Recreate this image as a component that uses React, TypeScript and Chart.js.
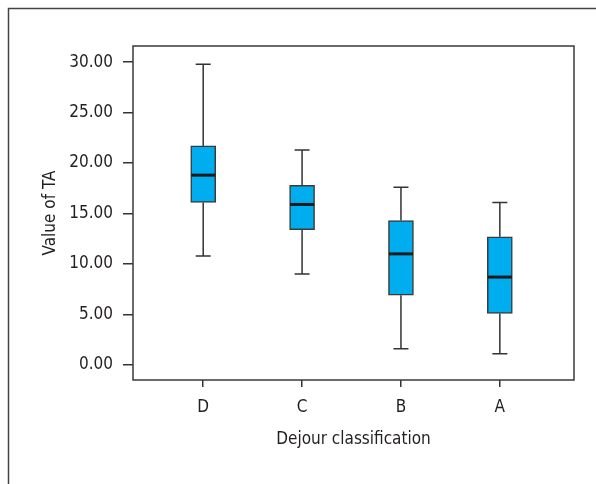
import React, { useEffect, useRef } from "react";
import { Chart, registerables } from "chart.js";

Chart.register(...registerables);

const categories = ["D", "C", "B", "A"];
const whiskerLow = [10.8, 9.0, 1.6, 1.1];
const q1 = [16.1, 13.4, 6.9, 5.1];
const median = [18.8, 15.9, 11.0, 8.7];
const q3 = [21.7, 17.8, 14.3, 12.7];
const whiskerHigh = [29.8, 21.3, 17.6, 16.1];
const yTicks = [0, 5, 10, 15, 20, 25, 30];

const FONT = "'Liberation Sans Narrow', 'DejaVu Sans Condensed', sans-serif";
const TEXT = "#231f20";
const LINE = "#333333";

const boxPlugin = {
  id: "boxExtras",
  beforeDraw(chart: any) {
    const ctx = chart.ctx;
    ctx.save();
    ctx.strokeStyle = "#444";
    ctx.lineWidth = 1.5;
    ctx.beginPath();
    ctx.moveTo(8.5, 484);
    ctx.lineTo(8.5, 8.5);
    ctx.lineTo(596, 8.5);
    ctx.stroke();
    ctx.restore();
  },
  beforeDatasetsDraw(chart: any) {
    const ctx = chart.ctx;
    const xs = chart.scales.x;
    const ys = chart.scales.y;
    ctx.save();
    ctx.strokeStyle = LINE;
    ctx.lineWidth = 1.5;
    categories.forEach((_, i) => {
      const x = xs.getPixelForValue(i);
      const lo = ys.getPixelForValue(whiskerLow[i]);
      const hi = ys.getPixelForValue(whiskerHigh[i]);
      const b1 = ys.getPixelForValue(q1[i]);
      const b3 = ys.getPixelForValue(q3[i]);
      ctx.beginPath();
      ctx.moveTo(x, hi);
      ctx.lineTo(x, b3);
      ctx.moveTo(x, b1);
      ctx.lineTo(x, lo);
      ctx.moveTo(x - 7.5, hi);
      ctx.lineTo(x + 7.5, hi);
      ctx.moveTo(x - 7.5, lo);
      ctx.lineTo(x + 7.5, lo);
      ctx.stroke();
    });
    ctx.restore();
  },
  afterDatasetsDraw(chart: any) {
    const ctx = chart.ctx;
    const xs = chart.scales.x;
    const ys = chart.scales.y;
    const a = chart.chartArea;
    ctx.save();
    ctx.strokeStyle = "#1a1a1a";
    ctx.lineWidth = 3;
    categories.forEach((_, i) => {
      const x = xs.getPixelForValue(i);
      const m = ys.getPixelForValue(median[i]);
      ctx.beginPath();
      ctx.moveTo(x - 12, m);
      ctx.lineTo(x + 12, m);
      ctx.stroke();
    });
    ctx.strokeStyle = "#3a3a3a";
    ctx.lineWidth = 1.5;
    ctx.strokeRect(a.left, a.top, a.right - a.left, a.bottom - a.top);
    ctx.restore();
  },
};

export default function App() {
  const ref = useRef<HTMLCanvasElement | null>(null);
  useEffect(() => {
    if (!ref.current) return;
    const chart = new Chart(ref.current, {
      type: "bar",
      data: {
        datasets: [
          {
            data: categories.map((_, i) => ({ x: i, y: [q1[i], q3[i]] })) as any,
            backgroundColor: "#00aeef",
            borderColor: "#3a3a3a",
            borderWidth: 1.5,
            borderSkipped: false,
            barThickness: 25,
          },
        ],
      },
      options: {
        responsive: false,
        animation: false,
        layout: { padding: { left: 0, top: 46, right: 22, bottom: 0 } },
        plugins: { legend: { display: false }, tooltip: { enabled: false } },
        scales: {
          x: {
            type: "linear",
            offset: false,
            min: -0.71,
            max: 3.75,
            afterBuildTicks: (s: any) => {
              s.ticks = categories.map((_, i) => ({ value: i }));
            },
            afterFit: (s: any) => {
              s.height = 104;
            },
            ticks: {
              callback: (v: any) => categories[v as number] ?? "",
              color: TEXT,
              font: { family: FONT, size: 17 },
              padding: 10,
              maxRotation: 0,
            },
            grid: { display: true, offset: false, drawOnChartArea: false, drawTicks: true, tickLength: 7, color: LINE, lineWidth: 1.5 },
            border: { display: false },
            title: {
              display: true,
              text: "Dejour classification",
              color: TEXT,
              font: { family: FONT, size: 17 },
              padding: { top: 0, bottom: 34 },
            },
          },
          y: {
            min: -1.5,
            max: 31.6,
            afterBuildTicks: (s: any) => {
              s.ticks = yTicks.map((v) => ({ value: v }));
            },
            afterFit: (s: any) => {
              s.width = 133;
            },
            ticks: {
              callback: (v: any) => Number(v).toFixed(2),
              color: TEXT,
              font: { family: FONT, size: 17 },
              padding: 10,
            },
            grid: { display: true, drawOnChartArea: false, drawTicks: true, tickLength: 10, color: LINE, lineWidth: 1.5 },
            border: { display: false },
            title: {
              display: true,
              text: "Value of TA",
              color: TEXT,
              font: { family: FONT, size: 17 },
              padding: { top: 40, bottom: 0 },
            },
          },
        },
      },
      plugins: [boxPlugin],
    });
    return () => chart.destroy();
  }, []);
  return (
    <div style={{ position: "absolute", left: 0, top: 0, width: 596, height: 484 }}>
      <canvas ref={ref} width={596} height={484} />
    </div>
  );
}
